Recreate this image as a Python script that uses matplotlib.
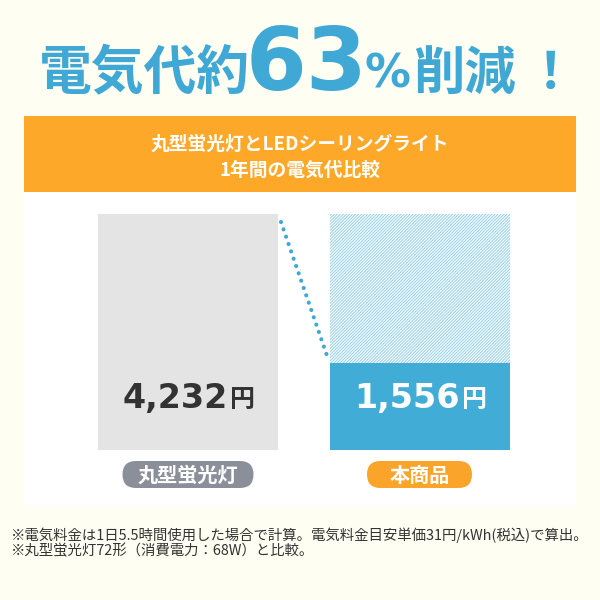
import matplotlib.pyplot as plt
from matplotlib.patches import Rectangle, FancyBboxPatch

plt.rcParams['font.family'] = ['Noto Sans CJK JP', 'DejaVu Sans']
plt.rcParams['hatch.linewidth'] = 0.8

categories = ['丸型蛍光灯', '本商品']
costs = [4232, 1556]
value_labels = ['4,232', '1,556']
bar_colors = ['#E4E4E4', '#41ACD6']
pill_colors = ['#8A8F99', '#FBA42A']
pill_widths = [131, 105]   # px

BG = '#FEFEF3'
BLUE = '#3FA8D5'
ORANGE = '#FDA829'

W = H = 600


def fx(x):
    return x / W


def fy(y):
    return 1 - y / H


fig = plt.figure(figsize=(6, 6), dpi=100, facecolor=BG)

# orange banner + white panel
fig.add_artist(Rectangle((fx(24), fy(192)), 552 / W, 76 / H, transform=fig.transFigure,
                         facecolor=ORANGE, edgecolor='none', zorder=-1))
fig.add_artist(Rectangle((fx(24), fy(506)), 552 / W, 314 / H, transform=fig.transFigure,
                         facecolor='white', edgecolor='none', zorder=-1))

# headline
fig.text(fx(144), fy(89), '電気代約', color=BLUE, fontsize=38, fontweight='bold',
         ha='center', va='baseline')
fig.text(fx(307), fy(90), '63', color=BLUE, fontsize=63, fontweight='bold',
         family='DejaVu Sans', ha='center', va='baseline')
fig.text(fx(388), fy(87), '%', color=BLUE, fontsize=33, fontweight='bold',
         family='DejaVu Sans', ha='center', va='baseline')
fig.text(fx(464), fy(89), '削減', color=BLUE, fontsize=37, fontweight='bold',
         ha='center', va='baseline')
fig.text(fx(550), fy(89), '！', color=BLUE, fontsize=37, fontweight='bold',
         ha='center', va='baseline')

# banner text
fig.text(0.5, fy(144), '丸型蛍光灯とLEDシーリングライト', color='white', fontsize=13.5,
         fontweight='bold', ha='center', va='center')
fig.text(0.5, fy(170), '1年間の電気代比較', color='white', fontsize=13.5,
         fontweight='bold', ha='center', va='center')

# bar axes: bar centres at x=188 and 419.5 px, bars from y=214 to 450 px
unit = 231.5
ax = fig.add_axes([fx(24), fy(450), 552 / W, 236 / H])
ax.set_zorder(1)
ax.set_xlim((24 - 188) / unit, (576 - 188) / unit)
ax.set_ylim(0, max(costs))
ax.axis('off')

xs = list(range(len(categories)))
width = 180 / unit
top = max(costs)

ax.bar(xs, costs, width=width, color=bar_colors, linewidth=0)
# saved part of the new product bar, hatched
ax.bar(xs[1], top - costs[1], bottom=costs[1], width=width, facecolor='white',
       edgecolor='#9ED4EA', hatch='/' * 11, linewidth=0)

# dotted connector from the old bar top to the new bar top
x0 = xs[0] + width / 2 + 3 / unit
x1 = xs[1] - width / 2 - 2 / unit
ax.plot([x0, x1], [top * 0.966, costs[1] * 1.07], color='#3FA8D5', lw=3.0,
        linestyle=(0, (0.01, 1.85)), dash_capstyle='round', clip_on=False)

# value labels
text_colors = ['#333333', 'white']
for x, lab, c in zip(xs, value_labels, text_colors):
    ax.annotate(lab, xy=(x, 0), xytext=(40, 42), textcoords='offset pixels',
                ha='right', va='baseline', fontsize=24, fontweight='bold',
                family='DejaVu Sans', color=c)
    ax.annotate('円', xy=(x, 0), xytext=(42, 43), textcoords='offset pixels',
                ha='left', va='baseline', fontsize=18, fontweight='bold', color=c)

# category pills under the bars
centres_px = [188 + unit * x for x in xs]
for cx, name, pc, pw in zip(centres_px, categories, pill_colors, pill_widths):
    ph = 27
    fig.add_artist(FancyBboxPatch((fx(cx - pw / 2), fy(461 + ph)), pw / W, ph / H,
                                  boxstyle='round,pad=0,rounding_size=%f' % (ph / 2 / H),
                                  transform=fig.transFigure, facecolor=pc,
                                  edgecolor='none', zorder=2))
    fig.text(fx(cx), fy(475), name, color='white', fontsize=14.5, fontweight='bold',
             ha='center', va='center', zorder=3)

# footnotes
fig.text(fx(10), fy(535), '※電気料金は1日5.5時間使用した場合で計算。電気料金目安単価31円/kWh(税込)で算出。',
         color='#333333', fontsize=10.4, ha='left', va='center')
fig.text(fx(10), fy(551), '※丸型蛍光灯72形（消費電力：68W）と比較。',
         color='#333333', fontsize=10.4, ha='left', va='center')

fig.savefig('out.png', dpi=100, facecolor=fig.get_facecolor())
